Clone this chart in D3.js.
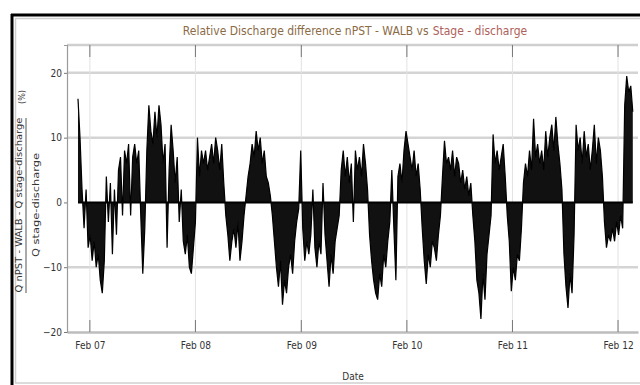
<!DOCTYPE html>
<html>
<head>
<meta charset="utf-8">
<script src="https://cdn.jsdelivr.net/npm/d3@7"></script>
<style>
  body { margin: 0; background: #fff; }
  svg { display: block; }
  text { font-family: "Liberation Sans Narrow", "DejaVu Sans Condensed", sans-serif; }
</style>
</head>
<body>
<div id="chart"></div>
<script>
const svgWidth = 640;
const svgHeight = 385;

const margin = { top: 45, right: 2, bottom: 53, left: 67 };
const width = svgWidth - margin.left - margin.right;
const height = svgHeight - margin.top - margin.bottom;

// weekly series, first value on 2006-12-22
const startDate = "2006-12-22";
const stepDays = 7;
const diffValues = [
  16, 10, 2,
  -4, 2, -7, -5, -9, -6, -10, -8, -12, -14, -9,
  4, -3, 3, -8, 2, -5,
  5, 7, -2, 8, 6, 9, -2, 7, 9, 6, 8, -2,
  -11, -4,
  8, 15, 11, 9, 14, 10, 15, 12, 6, 9, -7, 5, 12, 8, 3, 7,
  -3, 2, -6, -8, -5, -10, -11, -7, -3,
  10, 4, 8, 6, 8, 5, 7, 9, 6, 10, 8, 5, 9, 3, -2,
  -5, -9, -6, -4, -7, -3, -9, -6, -2, 1,
  4, 6, 9, 7, 11, 8, 10, 6, 8, 4, 3, 1, -2,
  -6, -10, -13, -9, -15.8, -12, -14, -10, -8, -11, -6, -3, -1,
  8,
  -4, -9, -6, -8, -5, 2, -7, -10, -6, -8, 3, -5, -9, -13, -8, -11, -6, -4, -2,
  5, 8, 4, 7, 3, 6, -3, 8, 5,
  7, 4, 9, 6, 2,
  -5, -9, -12, -14, -15, -11, -13, -8, -10, -6, -3,
  5, -4, -12,
  4, 6, 3, 8, 11, 9, 7, 5, 8, 4, 6, 2,
  -4, -9, -12.6, -8, -10, -6, -7, -9, -5, -2,
  4, 9.5, 6, 7, 5, 8, 4, 7, 6, 3, 5, 2, 4, 1, 3, -2,
  -6, -12, -14, -18, -11, -15, -8, -5, -2,
  10.5, 6, 8, 5, 7, 9, 4, -2,
  -6, -13.7, -10, -12, -8, -9, -4,
  3, 6, 4, 8, 5, 12.9, 7, 9, 6, 8, 5, 11, 7, 10, 12, 8, 13.2, 9, 6, 2,
  -8, -13, -16.3, -11, -14, -5,
  12, 8, 10, 6, 11, 7, 9, 5, 8, 12, 6, 10, 8, 4,
  -3, -7, -5, -6, -4, -6, -3, -5, -2, -4,
  15, 19.5, 17, 18, 14
];

const xDomain = ["2006-11-14", "2012-04-10"];
const yDomain = [-20, 24.3];
const yTicks = [-20, -10, 0, 10, 20];
const xTickDates = ["2007-02-01", "2008-02-01", "2009-02-01", "2010-02-01", "2011-02-01", "2012-02-01"];

const parseDate = d3.timeParse("%Y-%m-%d");
const t0 = parseDate(startDate);
const data = diffValues.map((v, i) => ({ date: d3.timeDay.offset(t0, i * stepDays), value: v }));

const svg = d3.select("#chart").append("svg")
  .attr("width", svgWidth)
  .attr("height", svgHeight);

// outer frame (black top/left edge, light inner border)
svg.append("rect")
  .attr("x", 15.5).attr("y", 18.5)
  .attr("width", 630).attr("height", 364.5)
  .attr("fill", "none")
  .attr("stroke", "#cfcfcf")
  .attr("stroke-width", 1.5);
svg.append("line").attr("x1", 11).attr("x2", 640).attr("y1", 15).attr("y2", 15)
  .attr("stroke", "#000").attr("stroke-width", 3);
svg.append("line").attr("x1", 12).attr("x2", 12).attr("y1", 14).attr("y2", 385)
  .attr("stroke", "#000").attr("stroke-width", 3);

// title, two coloured parts placed side by side
const titleA = svg.append("text")
  .attr("y", 35)
  .attr("font-size", 12)
  .attr("fill", "#8b6b45")
  .text("Relative Discharge difference nPST - WALB vs");
const titleB = svg.append("text")
  .attr("y", 35)
  .attr("font-size", 12)
  .attr("fill", "#b0605a")
  .text("Stage - discharge");
const wA = titleA.node().getComputedTextLength();
const wB = titleB.node().getComputedTextLength();
const gap = 4;
const titleLeft = 355 - (wA + gap + wB) / 2;
titleA.attr("x", titleLeft);
titleB.attr("x", titleLeft + wA + gap);

const chartGroup = svg.append("g")
  .attr("transform", `translate(${margin.left}, ${margin.top})`);

const xScale = d3.scaleTime()
  .domain(xDomain.map(parseDate))
  .range([0, width]);

const yScale = d3.scaleLinear()
  .domain(yDomain)
  .range([height, 0]);

// horizontal grid
chartGroup.append("g")
  .selectAll("line")
  .data(yTicks.filter(d => d !== 0 && d !== -20))
  .enter().append("line")
  .attr("x1", 0).attr("x2", width)
  .attr("y1", d => yScale(d)).attr("y2", d => yScale(d))
  .attr("stroke", "#d4d4d4")
  .attr("stroke-width", 2.5);

// vertical grid
const xTicks = xTickDates.map(parseDate);
chartGroup.append("g")
  .selectAll("line")
  .data(xTicks)
  .enter().append("line")
  .attr("x1", d => xScale(d)).attr("x2", d => xScale(d))
  .attr("y1", 0).attr("y2", height)
  .attr("stroke", "#e2e2e2")
  .attr("stroke-width", 1);

// plot border line on top
chartGroup.append("line")
  .attr("x1", 0).attr("x2", width).attr("y1", 0).attr("y2", 0)
  .attr("stroke", "#cfcfcf").attr("stroke-width", 2.5);

// area + line
const area = d3.area()
  .x(d => xScale(d.date))
  .y0(yScale(0))
  .y1(d => yScale(d.value));

const line = d3.line()
  .x(d => xScale(d.date))
  .y(d => yScale(d.value));

chartGroup.append("path")
  .datum(data)
  .attr("d", area)
  .attr("fill", "#111");

chartGroup.append("path")
  .datum(data)
  .attr("d", line)
  .attr("fill", "none")
  .attr("stroke", "#000")
  .attr("stroke-width", 1.2);

chartGroup.append("line")
  .attr("x1", xScale(data[0].date)).attr("x2", xScale(data[data.length - 1].date))
  .attr("y1", yScale(0)).attr("y2", yScale(0))
  .attr("stroke", "#000").attr("stroke-width", 2);

// x axis
const bottomAxis = d3.axisBottom(xScale)
  .tickValues(xTicks)
  .tickFormat(d3.timeFormat("%b %y"))
  .tickSize(0)
  .tickPadding(10);

const xAxis = chartGroup.append("g")
  .attr("transform", `translate(0, ${height})`)
  .call(bottomAxis);
xAxis.select(".domain").attr("stroke", "#bdbdbd").attr("stroke-width", 2.5);
xAxis.selectAll("text").attr("font-size", 10).attr("fill", "#333")
  .style("font-family", "'Liberation Sans Narrow', 'DejaVu Sans Condensed', sans-serif");

// small tick marks at top and bottom
chartGroup.append("g")
  .selectAll("line")
  .data(xTicks)
  .enter().append("line")
  .attr("x1", d => xScale(d)).attr("x2", d => xScale(d))
  .attr("y1", 0).attr("y2", 12)
  .attr("stroke", "#777");
chartGroup.append("g")
  .selectAll("line")
  .data(xTicks)
  .enter().append("line")
  .attr("x1", d => xScale(d)).attr("x2", d => xScale(d))
  .attr("y1", height - 12).attr("y2", height)
  .attr("stroke", "#777");

// y axis
const leftAxis = d3.axisLeft(yScale)
  .tickValues(yTicks)
  .tickSize(3)
  .tickPadding(2);
const yAxis = chartGroup.append("g").call(leftAxis);
yAxis.select(".domain").attr("stroke", "#9a9a9a").attr("stroke-width", 1.2);
yAxis.selectAll(".tick line").attr("stroke", "#777");
yAxis.selectAll("text").attr("font-size", 10).attr("fill", "#333")
  .style("font-family", "'Liberation Sans Narrow', 'DejaVu Sans Condensed', sans-serif");

// x label
svg.append("text")
  .attr("x", 353).attr("y", 380)
  .attr("text-anchor", "middle")
  .attr("font-size", 10)
  .attr("fill", "#333")
  .text("Date");

// y label as a fraction
const yl = svg.append("g").attr("fill", "#333");
yl.append("text")
  .attr("transform", "translate(22, 205) rotate(-90)")
  .attr("text-anchor", "middle")
  .attr("font-size", 9)
  .attr("textLength", 175)
  .attr("lengthAdjust", "spacingAndGlyphs")
  .text("Q nPST - WALB  -  Q stage-discharge");
yl.append("line")
  .attr("x1", 26).attr("x2", 26).attr("y1", 118).attr("y2", 293)
  .attr("stroke", "#555").attr("stroke-width", 1);
yl.append("text")
  .attr("transform", "translate(39, 205) rotate(-90)")
  .attr("text-anchor", "middle")
  .attr("font-size", 8)
  .attr("textLength", 104)
  .attr("lengthAdjust", "spacingAndGlyphs")
  .text("Q stage-discharge");
yl.append("text")
  .attr("transform", "translate(25, 97) rotate(-90)")
  .attr("text-anchor", "middle")
  .attr("font-size", 9)
  .text("(%)");
</script>
</body>
</html>
